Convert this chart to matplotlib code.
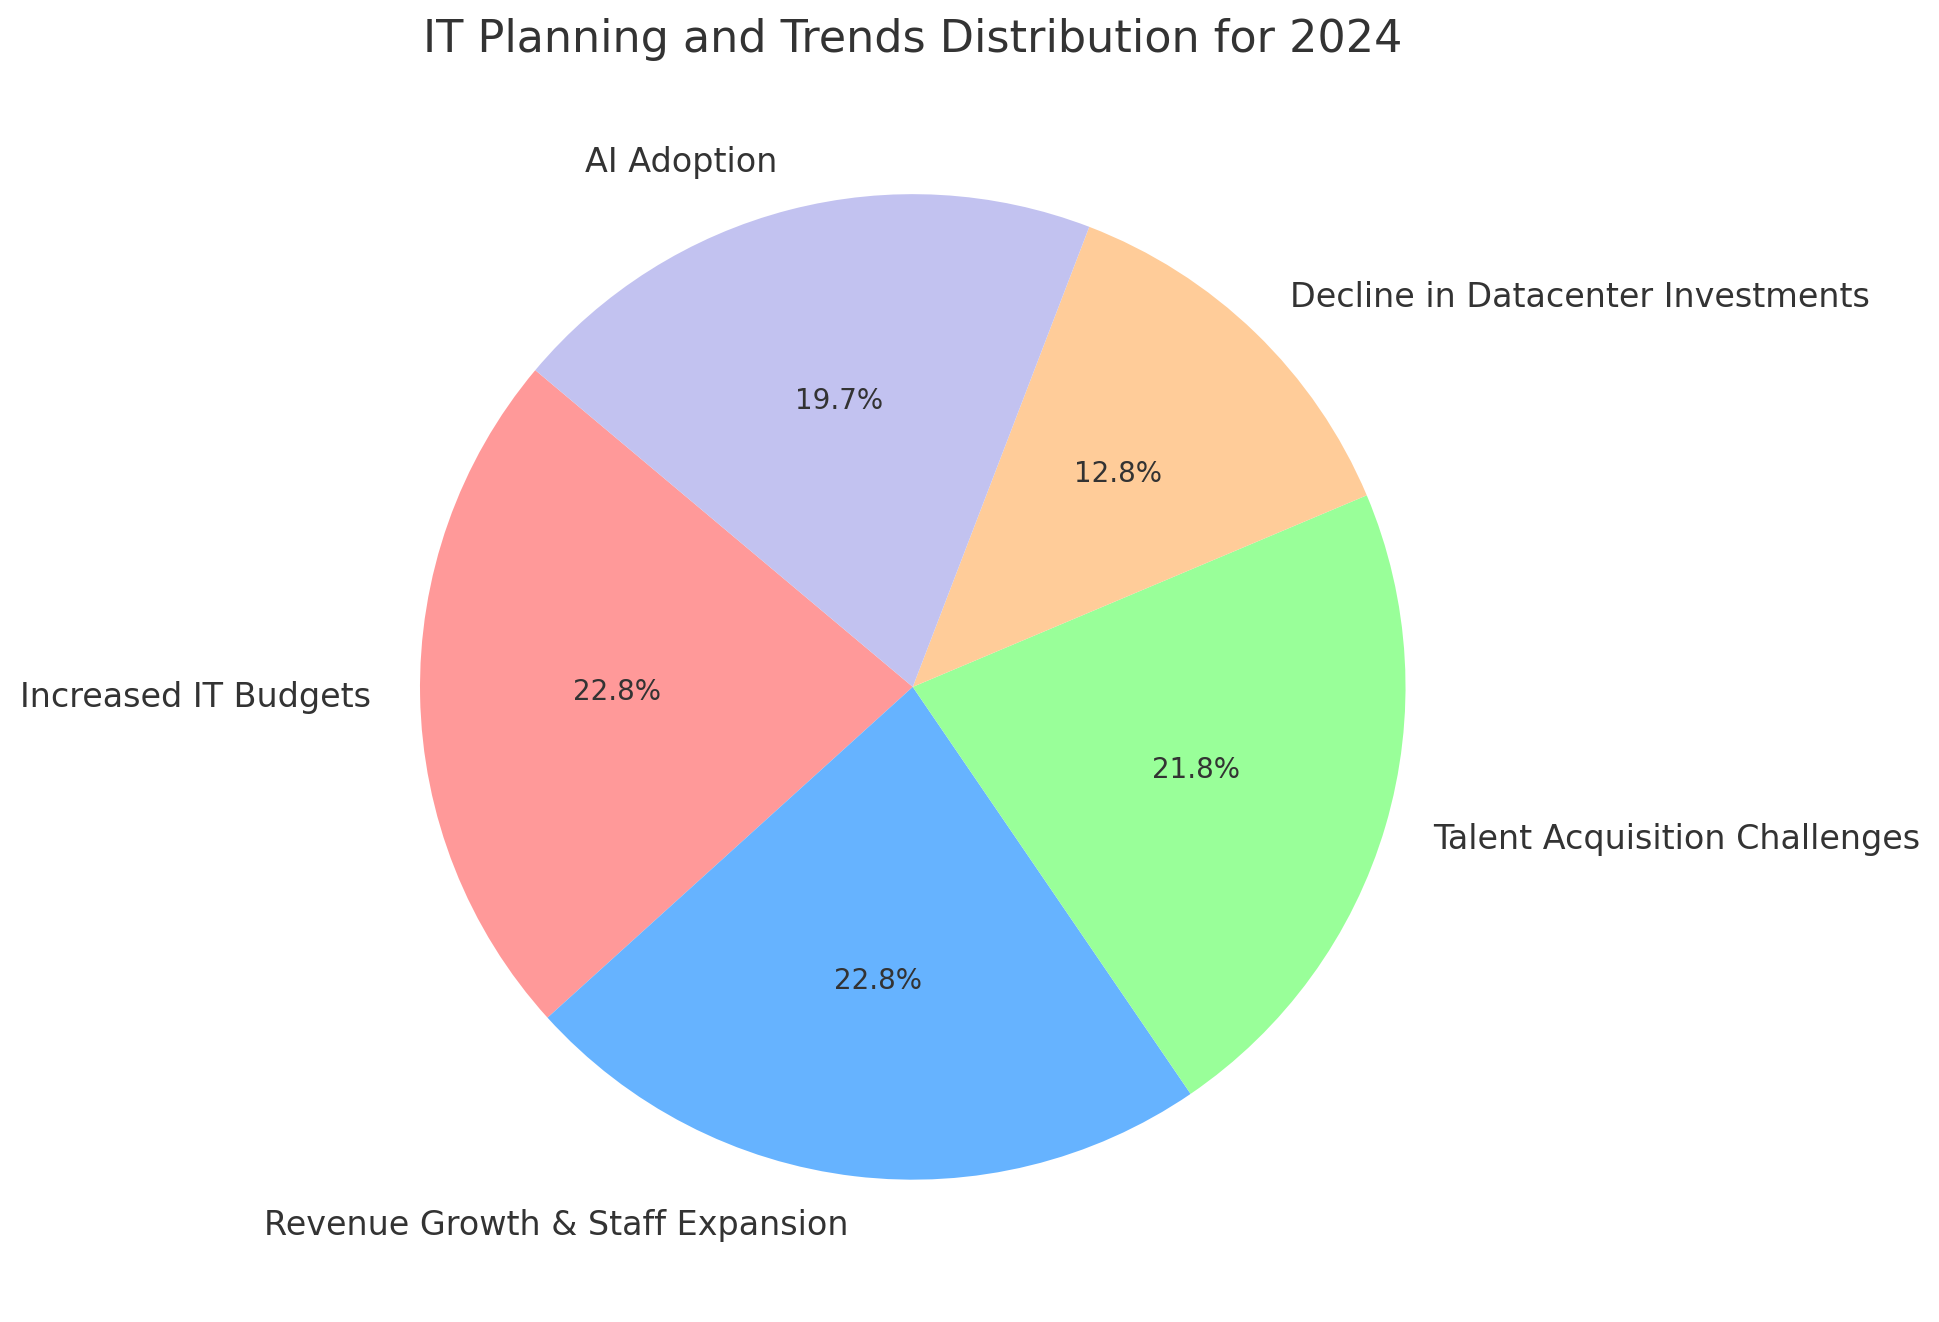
import matplotlib

matplotlib.use("Agg")
import matplotlib.pyplot as plt  # noqa: E402

labels = [
    "Increased IT Budgets",
    "Revenue Growth & Staff Expansion",
    "Talent Acquisition Challenges",
    "Decline in Datacenter Investments",
    "AI Adoption",
]
shares = [22.8, 22.8, 21.8, 12.8, 19.7]
colors = ["#ff9999", "#66b3ff", "#99ff99", "#ffcc99", "#c2c2f0"]

plt.rcParams.update(
    {
        "font.family": "DejaVu Sans",
        "text.color": "#333333",
        "figure.facecolor": "white",
    }
)

fig = plt.figure(figsize=(9.7, 6.61), dpi=200)
# square axes placed so the pie sits where it does in the reference
ax = fig.add_axes([0.153, 0.0144, 0.635, 0.932])
ax.pie(
    shares,
    labels=labels,
    colors=colors,
    autopct="%1.1f%%",
    startangle=140,
    textprops={"fontsize": 12, "color": "#333333"},
)
for t in ax.texts:
    if t.get_text().endswith("%"):
        t.set_fontsize(10)
ax.set_aspect("equal")
fig.text(
    0.4706, 0.970, "IT Planning and Trends Distribution for 2024",
    fontsize=16, color="#333333", ha="center", va="center",
)
fig.savefig("out.png", dpi=200)
